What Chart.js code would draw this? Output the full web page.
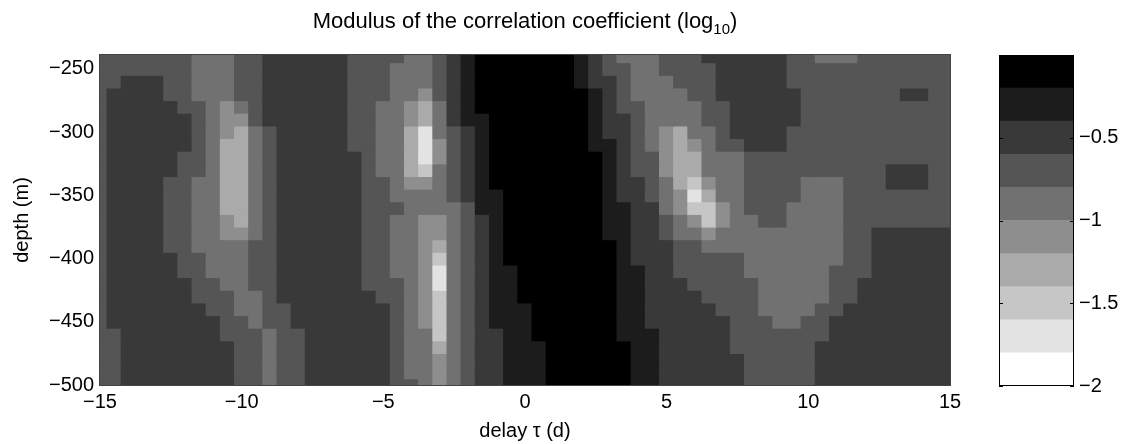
<!DOCTYPE html>
<html>
<head>
<meta charset="utf-8">
<script src="https://cdn.jsdelivr.net/npm/chart.js@4.4.1/dist/chart.umd.min.js"></script>
<style>
html,body{margin:0;padding:0;background:#ffffff;}
#wrap{position:relative;width:1126px;height:444px;overflow:hidden;}
#main{position:absolute;left:0;top:0;}
#cbar{position:absolute;left:990px;top:0;}
</style>
</head>
<body>
<div id="wrap">
<canvas id="main" width="1126" height="444"></canvas>
<canvas id="cbar" width="136" height="444"></canvas>
</div>
<script>
// ---- data (log10 of |correlation coefficient|) ----
const delays = [-15,-14.5,-14,-13.5,-13,-12.5,-12,-11.5,-11,-10.5,-10,-9.5,-9,-8.5,-8,-7.5,-7,-6.5,-6,-5.5,-5,-4.5,-4,-3.5,-3,-2.5,-2,-1.5,-1,-0.5,0,0.5,1,1.5,2,2.5,3,3.5,4,4.5,5,5.5,6,6.5,7,7.5,8,8.5,9,9.5,10,10.5,11,11.5,12,12.5,13,13.5,14,14.5,15];
const depths = [-240,-250,-260,-270,-280,-290,-300,-310,-320,-330,-340,-350,-360,-370,-380,-390,-400,-410,-420,-430,-440,-450,-460,-470,-480,-490,-500];
const corrLog10 = [
[-.7,-.7,-.7,-.7,-.7,-.7,-.7,-.9,-.9,-.9,-.7,-.7,-.5,-.5,-.5,-.5,-.5,-.5,-.7,-.7,-.7,-.7,-.9,-.9,-.7,-.5,-.3,-.1,-.1,-.1,-.1,-.1,-.1,-.1,-.3,-.5,-.7,-.9,-.9,-.9,-.7,-.7,-.7,-.5,-.5,-.5,-.5,-.5,-.5,-.7,-.7,-.9,-.9,-.9,-.7,-.7,-.7,-.7,-.7,-.7,-.7],
[-.7,-.7,-.7,-.7,-.7,-.7,-.7,-.9,-.9,-.9,-.7,-.7,-.5,-.5,-.5,-.5,-.5,-.5,-.7,-.7,-.7,-.9,-.9,-.9,-.7,-.5,-.3,-.1,-.1,-.1,-.1,-.1,-.1,-.1,-.3,-.5,-.7,-.7,-.9,-.9,-.7,-.7,-.7,-.7,-.5,-.5,-.5,-.5,-.5,-.7,-.7,-.7,-.7,-.7,-.7,-.7,-.7,-.7,-.7,-.7,-.7],
[-.7,-.7,-.5,-.5,-.5,-.7,-.7,-.9,-.9,-.9,-.7,-.7,-.5,-.5,-.5,-.5,-.5,-.5,-.7,-.7,-.7,-.9,-.9,-.9,-.7,-.5,-.3,-.1,-.1,-.1,-.1,-.1,-.1,-.1,-.3,-.5,-.5,-.7,-.9,-.9,-.9,-.7,-.7,-.7,-.5,-.5,-.5,-.5,-.5,-.7,-.7,-.7,-.7,-.7,-.7,-.7,-.7,-.7,-.7,-.7,-.7],
[-.7,-.5,-.5,-.5,-.5,-.7,-.7,-.9,-.9,-.9,-.7,-.7,-.5,-.5,-.5,-.5,-.5,-.5,-.7,-.7,-.7,-.9,-.9,-1.1,-.7,-.5,-.3,-.1,-.1,-.1,-.1,-.1,-.1,-.1,-.1,-.3,-.5,-.7,-.9,-.9,-.9,-.9,-.7,-.7,-.5,-.5,-.5,-.5,-.5,-.5,-.7,-.7,-.7,-.7,-.7,-.7,-.7,-.5,-.5,-.7,-.7],
[-.7,-.5,-.5,-.5,-.5,-.5,-.7,-.7,-.9,-1.1,-.9,-.7,-.5,-.5,-.5,-.5,-.5,-.5,-.7,-.7,-.9,-.9,-1.1,-1.3,-.9,-.5,-.3,-.1,-.1,-.1,-.1,-.1,-.1,-.1,-.1,-.3,-.5,-.7,-.7,-.9,-.9,-.9,-.9,-.7,-.7,-.5,-.5,-.5,-.5,-.5,-.7,-.7,-.7,-.7,-.7,-.7,-.7,-.7,-.7,-.7,-.7],
[-.7,-.5,-.5,-.5,-.5,-.5,-.5,-.7,-.9,-1.1,-1.1,-.7,-.5,-.5,-.5,-.5,-.5,-.5,-.7,-.7,-.9,-.9,-1.1,-1.3,-.9,-.5,-.3,-.3,-.1,-.1,-.1,-.1,-.1,-.1,-.1,-.3,-.5,-.5,-.7,-.9,-.9,-.9,-.9,-.7,-.7,-.5,-.5,-.5,-.5,-.5,-.7,-.7,-.7,-.7,-.7,-.7,-.7,-.7,-.7,-.7,-.7],
[-.7,-.5,-.5,-.5,-.5,-.5,-.5,-.7,-.9,-1.1,-1.3,-.9,-.7,-.5,-.5,-.5,-.5,-.5,-.7,-.7,-.9,-.9,-1.3,-1.7,-.9,-.7,-.5,-.3,-.1,-.1,-.1,-.1,-.1,-.1,-.1,-.3,-.5,-.5,-.7,-.9,-1.1,-1.3,-.9,-.9,-.7,-.5,-.5,-.5,-.5,-.7,-.7,-.7,-.7,-.7,-.7,-.7,-.7,-.7,-.7,-.7,-.7],
[-.7,-.5,-.5,-.5,-.5,-.5,-.5,-.7,-.9,-1.3,-1.3,-.9,-.7,-.5,-.5,-.5,-.5,-.5,-.7,-.7,-.9,-.9,-1.3,-1.7,-1.1,-.7,-.5,-.3,-.1,-.1,-.1,-.1,-.1,-.1,-.1,-.3,-.3,-.5,-.7,-.9,-1.1,-1.3,-1.1,-.9,-.7,-.7,-.5,-.5,-.5,-.7,-.7,-.7,-.7,-.7,-.7,-.7,-.7,-.7,-.7,-.7,-.7],
[-.7,-.5,-.5,-.5,-.5,-.5,-.7,-.7,-.9,-1.3,-1.3,-.9,-.7,-.5,-.5,-.5,-.5,-.5,-.5,-.7,-.9,-.9,-1.3,-1.7,-1.1,-.7,-.5,-.3,-.1,-.1,-.1,-.1,-.1,-.1,-.1,-.1,-.3,-.5,-.7,-.7,-1.1,-1.3,-1.3,-.9,-.9,-.9,-.7,-.7,-.7,-.7,-.7,-.7,-.7,-.7,-.7,-.7,-.7,-.7,-.7,-.7,-.7],
[-.7,-.5,-.5,-.5,-.5,-.5,-.7,-.7,-.9,-1.3,-1.3,-.9,-.7,-.5,-.5,-.5,-.5,-.5,-.5,-.7,-.9,-.9,-1.3,-1.5,-.9,-.7,-.5,-.3,-.1,-.1,-.1,-.1,-.1,-.1,-.1,-.1,-.3,-.5,-.7,-.7,-1.1,-1.3,-1.3,-.9,-.9,-.9,-.7,-.7,-.7,-.7,-.7,-.7,-.7,-.7,-.7,-.7,-.5,-.5,-.5,-.7,-.7],
[-.7,-.5,-.5,-.5,-.5,-.7,-.7,-.9,-.9,-1.3,-1.3,-.9,-.7,-.5,-.5,-.5,-.5,-.5,-.5,-.7,-.7,-.9,-1.1,-1.1,-.9,-.7,-.5,-.3,-.1,-.1,-.1,-.1,-.1,-.1,-.1,-.1,-.3,-.5,-.5,-.7,-.9,-1.3,-1.5,-1.1,-.9,-.9,-.7,-.7,-.7,-.7,-.9,-.9,-.9,-.7,-.7,-.7,-.5,-.5,-.5,-.7,-.7],
[-.7,-.5,-.5,-.5,-.5,-.7,-.7,-.9,-.9,-1.3,-1.3,-.9,-.7,-.5,-.5,-.5,-.5,-.5,-.5,-.7,-.7,-.9,-.9,-.9,-.9,-.7,-.5,-.3,-.3,-.1,-.1,-.1,-.1,-.1,-.1,-.1,-.3,-.5,-.5,-.7,-.9,-1.1,-1.7,-1.3,-.9,-.9,-.7,-.7,-.7,-.7,-.9,-.9,-.9,-.7,-.7,-.7,-.7,-.7,-.7,-.7,-.7],
[-.7,-.5,-.5,-.5,-.5,-.7,-.7,-.9,-.9,-1.3,-1.3,-.9,-.7,-.5,-.5,-.5,-.5,-.5,-.5,-.7,-.7,-.7,-.9,-.9,-.9,-.9,-.7,-.3,-.3,-.1,-.1,-.1,-.1,-.1,-.1,-.1,-.3,-.3,-.5,-.5,-.9,-1.1,-1.5,-1.5,-1.1,-.9,-.7,-.7,-.7,-.9,-.9,-.9,-.9,-.7,-.7,-.7,-.7,-.7,-.7,-.7,-.7],
[-.7,-.5,-.5,-.5,-.5,-.7,-.7,-.9,-.9,-1.1,-1.3,-.9,-.7,-.5,-.5,-.5,-.5,-.5,-.5,-.7,-.7,-.9,-.9,-1.1,-1.1,-.9,-.7,-.5,-.3,-.1,-.1,-.1,-.1,-.1,-.1,-.1,-.3,-.3,-.5,-.5,-.7,-.9,-1.1,-1.5,-1.1,-.9,-.9,-.7,-.7,-.9,-.9,-.9,-.9,-.7,-.7,-.7,-.7,-.7,-.7,-.7,-.7],
[-.7,-.5,-.5,-.5,-.5,-.7,-.7,-.9,-.9,-1.1,-1.1,-.9,-.7,-.5,-.5,-.5,-.5,-.5,-.5,-.7,-.7,-.9,-.9,-1.1,-1.1,-.9,-.7,-.5,-.3,-.1,-.1,-.1,-.1,-.1,-.1,-.1,-.3,-.3,-.5,-.5,-.7,-.9,-.9,-1.1,-.9,-.9,-.9,-.9,-.9,-.9,-.9,-.9,-.9,-.7,-.7,-.5,-.5,-.5,-.5,-.5,-.5],
[-.7,-.5,-.5,-.5,-.5,-.7,-.7,-.9,-.9,-.9,-.9,-.7,-.7,-.5,-.5,-.5,-.5,-.5,-.5,-.7,-.7,-.9,-.9,-1.1,-1.3,-.9,-.7,-.5,-.3,-.1,-.1,-.1,-.1,-.1,-.1,-.1,-.1,-.3,-.5,-.5,-.5,-.7,-.7,-.9,-.9,-.9,-.9,-.9,-.9,-.9,-.9,-.9,-.9,-.7,-.7,-.5,-.5,-.5,-.5,-.5,-.5],
[-.7,-.5,-.5,-.5,-.5,-.5,-.7,-.7,-.9,-.9,-.9,-.7,-.7,-.5,-.5,-.5,-.5,-.5,-.5,-.7,-.7,-.9,-.9,-1.1,-1.5,-.9,-.7,-.5,-.3,-.1,-.1,-.1,-.1,-.1,-.1,-.1,-.1,-.3,-.5,-.5,-.5,-.7,-.7,-.7,-.7,-.7,-.9,-.9,-.9,-.9,-.9,-.9,-.9,-.7,-.7,-.5,-.5,-.5,-.5,-.5,-.5],
[-.7,-.5,-.5,-.5,-.5,-.5,-.7,-.7,-.9,-.9,-.9,-.7,-.7,-.5,-.5,-.5,-.5,-.5,-.5,-.7,-.7,-.9,-.9,-1.1,-1.7,-.9,-.7,-.5,-.3,-.3,-.1,-.1,-.1,-.1,-.1,-.1,-.1,-.3,-.3,-.5,-.5,-.7,-.7,-.7,-.7,-.7,-.9,-.9,-.9,-.9,-.9,-.9,-.7,-.7,-.7,-.5,-.5,-.5,-.5,-.5,-.5],
[-.7,-.5,-.5,-.5,-.5,-.5,-.5,-.7,-.7,-.9,-.9,-.7,-.7,-.5,-.5,-.5,-.5,-.5,-.5,-.7,-.7,-.7,-.9,-1.1,-1.7,-.9,-.7,-.5,-.3,-.3,-.1,-.1,-.1,-.1,-.1,-.1,-.1,-.3,-.3,-.5,-.5,-.5,-.7,-.7,-.7,-.7,-.7,-.9,-.9,-.9,-.9,-.9,-.7,-.7,-.5,-.5,-.5,-.5,-.5,-.5,-.5],
[-.7,-.5,-.5,-.5,-.5,-.5,-.5,-.7,-.7,-.7,-.9,-.9,-.7,-.5,-.5,-.5,-.5,-.5,-.5,-.5,-.7,-.7,-.9,-1.1,-1.5,-.9,-.7,-.5,-.3,-.3,-.1,-.1,-.1,-.1,-.1,-.1,-.1,-.3,-.3,-.5,-.5,-.5,-.5,-.7,-.7,-.7,-.7,-.9,-.9,-.9,-.9,-.9,-.7,-.7,-.5,-.5,-.5,-.5,-.5,-.5,-.5],
[-.7,-.5,-.5,-.5,-.5,-.5,-.5,-.5,-.7,-.7,-.9,-.9,-.7,-.7,-.5,-.5,-.5,-.5,-.5,-.5,-.5,-.7,-.9,-1.1,-1.5,-.9,-.7,-.5,-.3,-.3,-.3,-.1,-.1,-.1,-.1,-.1,-.1,-.3,-.3,-.5,-.5,-.5,-.5,-.5,-.7,-.7,-.7,-.9,-.9,-.9,-.9,-.7,-.7,-.5,-.5,-.5,-.5,-.5,-.5,-.5,-.5],
[-.7,-.5,-.5,-.5,-.5,-.5,-.5,-.5,-.5,-.7,-.7,-.9,-.7,-.7,-.5,-.5,-.5,-.5,-.5,-.5,-.5,-.7,-.9,-1.1,-1.5,-.9,-.7,-.5,-.3,-.3,-.3,-.1,-.1,-.1,-.1,-.1,-.1,-.3,-.3,-.5,-.5,-.5,-.5,-.5,-.5,-.7,-.7,-.7,-.9,-.9,-.7,-.7,-.5,-.5,-.5,-.5,-.5,-.5,-.5,-.5,-.5],
[-.7,-.7,-.5,-.5,-.5,-.5,-.5,-.5,-.5,-.7,-.7,-.7,-.9,-.7,-.7,-.5,-.5,-.5,-.5,-.5,-.5,-.7,-.9,-.9,-1.5,-.9,-.7,-.5,-.5,-.3,-.3,-.1,-.1,-.1,-.1,-.1,-.1,-.3,-.3,-.3,-.5,-.5,-.5,-.5,-.5,-.7,-.7,-.7,-.7,-.7,-.7,-.7,-.5,-.5,-.5,-.5,-.5,-.5,-.5,-.5,-.5],
[-.7,-.7,-.5,-.5,-.5,-.5,-.5,-.5,-.5,-.5,-.7,-.7,-.9,-.7,-.7,-.5,-.5,-.5,-.5,-.5,-.5,-.7,-.9,-.9,-1.3,-.9,-.7,-.5,-.5,-.3,-.3,-.3,-.1,-.1,-.1,-.1,-.1,-.1,-.3,-.3,-.5,-.5,-.5,-.5,-.5,-.7,-.7,-.7,-.7,-.7,-.7,-.5,-.5,-.5,-.5,-.5,-.5,-.5,-.5,-.5,-.5],
[-.7,-.7,-.5,-.5,-.5,-.5,-.5,-.5,-.5,-.5,-.7,-.7,-.9,-.7,-.7,-.5,-.5,-.5,-.5,-.5,-.5,-.7,-.9,-.9,-1.1,-.9,-.7,-.5,-.5,-.3,-.3,-.3,-.1,-.1,-.1,-.1,-.1,-.1,-.3,-.3,-.5,-.5,-.5,-.5,-.5,-.5,-.7,-.7,-.7,-.7,-.7,-.5,-.5,-.5,-.5,-.5,-.5,-.5,-.5,-.5,-.5],
[-.7,-.7,-.5,-.5,-.5,-.5,-.5,-.5,-.5,-.5,-.7,-.7,-.9,-.7,-.7,-.5,-.5,-.5,-.5,-.5,-.5,-.7,-.9,-.9,-1.1,-.9,-.7,-.5,-.5,-.3,-.3,-.3,-.1,-.1,-.1,-.1,-.1,-.1,-.3,-.3,-.5,-.5,-.5,-.5,-.5,-.5,-.7,-.7,-.7,-.7,-.7,-.5,-.5,-.5,-.5,-.5,-.5,-.5,-.5,-.5,-.5],
[-.7,-.7,-.5,-.5,-.5,-.5,-.5,-.5,-.5,-.5,-.7,-.7,-.9,-.7,-.7,-.5,-.5,-.5,-.5,-.5,-.5,-.7,-.7,-.9,-1.1,-.9,-.7,-.5,-.5,-.3,-.3,-.3,-.1,-.1,-.1,-.1,-.1,-.1,-.3,-.3,-.5,-.5,-.5,-.5,-.5,-.5,-.7,-.7,-.7,-.7,-.7,-.5,-.5,-.5,-.5,-.5,-.5,-.5,-.5,-.5,-.5]
];
// contour levels (colour bar) and their grey shades, bottom to top
const levels = [-2,-1.8,-1.6,-1.4,-1.2,-1,-0.8,-0.6,-0.4,-0.2,0];
const levelColors = ['#ffffff','#e3e3e3','#c6c6c6','#aaaaaa','#8e8e8e','#717171','#555555','#393939','#1c1c1c','#000000'];
const delayTicks = [-15,-10,-5,0,5,10,15];
const depthTicks = [-500,-450,-400,-350,-300,-250];
const cbarTicks = [-2,-1.5,-1,-0.5];
const titleMain = 'Modulus of the correlation coefficient (log';
const titleSub = '10';
const titleEnd = ')';
const xLabel = 'delay \u03c4 (d)';
const yLabel = 'depth (m)';

const FONT = "'Liberation Sans', Arial, Helvetica, sans-serif";
const fmt = v => String(v).replace('-', '\u2212');
function colorFor(v) {
  for (let i = 0; i < levelColors.length; i++) {
    if (v >= levels[i] && v < levels[i + 1]) return levelColors[i];
  }
  return v < levels[0] ? levelColors[0] : levelColors[levelColors.length - 1];
}
const dHalf = Math.abs(depths[0] - depths[1]) / 2;

const datasets = depths.map((d, r) => ({
  data: delays.map(x => ({ x: x, y: [d - dHalf, d + dHalf] })),
  backgroundColor: corrLog10[r].map(colorFor),
  borderWidth: 0
}));

const framePlugin = {
  id: 'frame',
  afterDatasetsDraw(chart) {
    const { ctx, chartArea: a } = chart;
    ctx.save();
    ctx.strokeStyle = '#444444';
    ctx.lineWidth = 1;
    ctx.strokeRect(a.left - 0.5, a.top - 0.5, a.right - a.left + 1, a.bottom - a.top + 1);
    ctx.restore();
  },
  afterDraw(chart) {
    const { ctx, chartArea: a } = chart;
    ctx.save();
    ctx.fillStyle = '#000';
    ctx.textBaseline = 'alphabetic';
    ctx.textAlign = 'left';
    ctx.font = '22px ' + FONT;
    const w1 = ctx.measureText(titleMain).width;
    const w3 = ctx.measureText(titleEnd).width;
    ctx.font = '15px ' + FONT;
    const w2 = ctx.measureText(titleSub).width;
    let x = (a.left + a.right) / 2 - (w1 + w2 + w3) / 2;
    const base = 28;
    ctx.font = '22px ' + FONT;
    ctx.fillText(titleMain, x, base);
    x += w1;
    ctx.font = '15px ' + FONT;
    ctx.fillText(titleSub, x, base + 6);
    x += w2;
    ctx.font = '22px ' + FONT;
    ctx.fillText(titleEnd, x, base);
    ctx.restore();
  }
};

new Chart(document.getElementById('main'), {
  type: 'bar',
  data: { datasets: datasets },
  options: {
    responsive: false,
    animation: false,
    events: [],
    layout: { padding: { top: 55, right: 176, bottom: 0, left: 0 } },
    plugins: { legend: { display: false }, tooltip: { enabled: false }, title: { display: false } },
    datasets: { bar: { grouped: false, barPercentage: 1, categoryPercentage: 1, inflateAmount: 0.6 } },
    scales: {
      x: {
        type: 'linear', position: 'bottom', min: -15, max: 15, offset: false,
        grid: { display: false, drawTicks: false, offset: false },
        border: { display: false },
        afterBuildTicks: s => { s.ticks = delayTicks.map(v => ({ value: v })); },
        afterFit: s => { s.height = 59; },
        ticks: { padding: 5, color: '#000', autoSkip: false, maxRotation: 0, font: { family: FONT, size: 20 }, callback: v => fmt(v) },
        title: { display: true, text: xLabel, color: '#000', font: { family: FONT, size: 20 }, padding: { top: 0, bottom: 1 } }
      },
      y: {
        type: 'linear', position: 'left', min: -500, max: -239,
        grid: { display: false, drawTicks: false },
        border: { display: false },
        afterBuildTicks: s => { s.ticks = depthTicks.map(v => ({ value: v })); },
        afterFit: s => { s.width = 100; },
        ticks: { padding: 6, color: '#000', autoSkip: false, font: { family: FONT, size: 20 }, callback: v => fmt(v) },
        title: { display: true, text: yLabel, color: '#000', font: { family: FONT, size: 20 }, padding: { top: 10, bottom: 0 } }
      }
    }
  },
  plugins: [framePlugin]
});

// ---- colour bar ----
const cbarPlugin = {
  id: 'cbarFrame',
  afterDatasetsDraw(chart) {
    const { ctx, chartArea: a, scales } = chart;
    ctx.save();
    ctx.strokeStyle = '#000';
    ctx.lineWidth = 1;
    ctx.strokeRect(a.left + 0.5, a.top + 0.5, a.right - a.left - 1, a.bottom - a.top - 1);
    cbarTicks.forEach(v => {
      const py = Math.round(scales.y.getPixelForValue(v)) + 0.5;
      ctx.beginPath();
      ctx.moveTo(a.left, py); ctx.lineTo(a.left + 4, py);
      ctx.moveTo(a.right, py); ctx.lineTo(a.right - 4, py);
      ctx.stroke();
    });
    ctx.restore();
  }
};
new Chart(document.getElementById('cbar'), {
  type: 'bar',
  data: {
    labels: ['log10'],
    datasets: levelColors.map((c, i) => ({ data: [[levels[i], levels[i + 1]]], backgroundColor: c, borderWidth: 0 }))
  },
  options: {
    responsive: false,
    animation: false,
    events: [],
    layout: { padding: { top: 55, right: 0, bottom: 58, left: 9 } },
    plugins: { legend: { display: false }, tooltip: { enabled: false } },
    datasets: { bar: { grouped: false, barPercentage: 1, categoryPercentage: 1 } },
    scales: {
      x: { display: false },
      y: {
        type: 'linear', position: 'right', min: levels[0], max: levels[levels.length - 1],
        grid: { display: false, drawTicks: false },
        border: { display: false },
        afterBuildTicks: s => { s.ticks = cbarTicks.map(v => ({ value: v })); },
        afterFit: s => { s.width = 52; },
        ticks: { padding: 5, color: '#000', autoSkip: false, font: { family: FONT, size: 20 }, callback: v => fmt(v) }
      }
    }
  },
  plugins: [cbarPlugin]
});
</script>
</body>
</html>
